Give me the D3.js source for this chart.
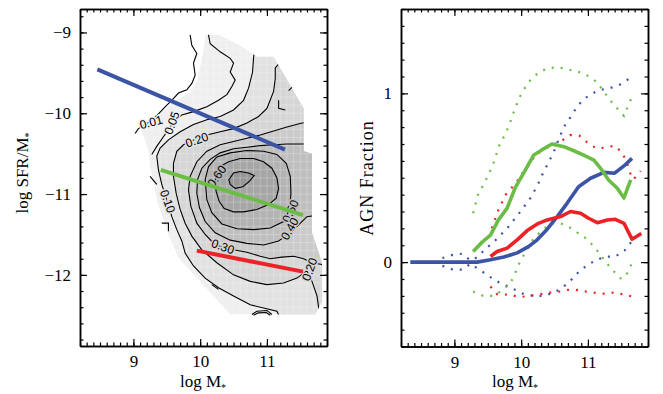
<!DOCTYPE html>
<html>
<head>
<meta charset="utf-8">
<script src="https://d3js.org/d3.v7.min.js"></script>
<style>
  body { margin: 0; background: #fff; }
  svg text { font-family: 'Liberation Serif', 'DejaVu Serif', serif; fill: #000; }
  .axis path, .axis line { stroke: #000; stroke-width: 1.2; }
  .axis .domain { stroke-width: 1.5; }
  .axis text { font-size: 17px; }
  svg text.clab { font-family: 'Liberation Sans', Arial, sans-serif; font-size: 12px; }
</style>
</head>
<body>
<svg id="chart" width="663" height="394"></svg>
<script>
// ---------- tick values ----------
const massTicks = [9, 10, 11];
const ssfrTicks = [-9, -10, -11, -12];
const fracTicks = [0, 1];

// ---------- left panel: sSFR vs mass density map ----------
// outline of the region that has data (shaded)
const maskOutline = [[10.08,-9.03],[10.275,-9.025],[10.6,-9.16],[10.85,-9.30],[11.1,-9.30],[11.55,-9.94],
  [11.55,-10.47],[11.675,-10.50],[11.675,-11.48],[11.825,-11.85],[11.825,-12.33],[11.725,-12.49],
  [10.45,-12.49],[9.95,-12.04],[9.675,-11.79],[9.52,-11.5],[9.355,-11.09],[9.25,-10.67],[9.22,-10.45],
  [9.125,-10.23],[9.1,-10.16],[9.35,-10.02],[9.6,-9.86],[9.85,-9.74],[9.96,-9.58],[10.03,-9.3]];

// open contours (outermost levels)
const c001 = [[9.85,-9.03],[9.875,-9.16],[9.95,-9.26],[9.9,-9.38],[9.925,-9.53],[9.875,-9.63],[9.8,-9.71],
  [9.675,-9.75],[9.575,-9.84],[9.475,-9.92],[9.35,-10.03],[9.2,-10.13],[9.075,-10.19],[9.025,-10.25]];
const c005 = [[10.125,-9.03],[10.15,-9.14],[10.3,-9.24],[10.45,-9.32],[10.5,-9.38],[10.45,-9.49],[10.525,-9.59],
  [10.475,-9.67],[10.4,-9.77],[10.275,-9.84],[10.1,-9.92],[9.9,-9.98],[9.725,-10.02],[9.575,-10.14],
  [9.45,-10.29],[9.35,-10.41],[9.275,-10.51]];
// small contour pieces near the edge of the data
const fragments = [
  [[11.175,-9.84],[11.175,-9.94],[11.275,-9.96]],
  [[11.375,-9.68],[11.325,-9.72]],
  [[9.25,-10.78],[9.35,-10.88]],
  [[9.425,-11.36],[9.525,-11.36],[9.525,-11.46]],
  [[10.175,-12.12],[10.275,-12.18]],
  [[10.775,-12.49],[10.85,-12.45],[11.0,-12.44],[11.075,-12.49]],
  [[10.8,-12.50],[10.87,-12.47],[10.99,-12.465],[11.05,-12.50]]
];

// closed contours (parts outside the shaded region are hidden)
const c010 = [[10.825,-9.18],[10.8,-9.31],[10.785,-9.49],[10.725,-9.69],[10.65,-9.84],[10.5,-9.96],[10.3,-10.04],
  [10.1,-10.08],[9.9,-10.14],[9.7,-10.23],[9.525,-10.33],[9.4,-10.43],[9.35,-10.53],[9.375,-10.70],
  [9.425,-10.88],[9.5,-11.07],[9.575,-11.28],[9.65,-11.44],[9.725,-11.58],[9.775,-11.73],[9.9,-11.89],
  [10.075,-12.04],[10.275,-12.16],[10.5,-12.26],[10.75,-12.37],[10.95,-12.41],[11.15,-12.45],[11.25,-12.63],
  [12.0,-12.63],[12.0,-9.18]];
const c020 = [[11.25,-9.32],[11.125,-9.44],[11.125,-9.57],[11.1,-9.73],[11.0,-9.94],[10.875,-10.04],[10.7,-10.12],
  [10.5,-10.19],[10.3,-10.23],[10.1,-10.27],[9.9,-10.33],[9.75,-10.39],[9.65,-10.47],[9.6,-10.62],[9.6,-10.78],
  [9.64,-10.99],[9.7,-11.19],[9.775,-11.36],[9.875,-11.52],[10.025,-11.69],[10.25,-11.85],[10.5,-12.0],
  [10.75,-12.08],[11.0,-12.12],[11.25,-12.10],[11.45,-12.04],[11.6,-11.95],[11.675,-12.08],[11.75,-12.26],
  [11.8,-12.55],[12.0,-12.55],[12.0,-9.32]];
const c030 = [[12.0,-10.08],[11.525,-10.12],[11.3,-10.17],[11.1,-10.22],[10.9,-10.27],[10.7,-10.31],[10.5,-10.35],
  [10.3,-10.39],[10.1,-10.47],[9.95,-10.6],[9.85,-10.78],[9.825,-10.95],[9.86,-11.15],[9.95,-11.36],
  [10.075,-11.50],[10.225,-11.63],[10.5,-11.69],[10.7,-11.72],[10.9,-11.77],[11.05,-11.80],[11.225,-11.78],
  [11.4,-11.77],[11.55,-11.80],[11.675,-11.85],[11.95,-11.89],[12.0,-11.89]];
const c040 = [[12.0,-10.37],[11.525,-10.38],[11.3,-10.38],[11.1,-10.39],[10.9,-10.40],[10.7,-10.42],[10.5,-10.44],
  [10.3,-10.49],[10.15,-10.57],[10.025,-10.68],[9.96,-10.82],[9.95,-10.99],[9.99,-11.17],[10.075,-11.34],
  [10.225,-11.48],[10.45,-11.57],[10.7,-11.61],[10.95,-11.63],[11.175,-11.58],[11.35,-11.48],[11.475,-11.38],
  [11.6,-11.28],[12.0,-11.23]];
const c050 = [[10.075,-10.82],[10.125,-10.66],[10.25,-10.54],[10.45,-10.49],[10.7,-10.46],[10.95,-10.47],
  [11.15,-10.51],[11.29,-10.62],[11.35,-10.78],[11.36,-10.99],[11.34,-11.19],[11.25,-11.34],[11.05,-11.42],
  [10.8,-11.44],[10.55,-11.43],[10.325,-11.37],[10.175,-11.23],[10.1,-11.07]];
const c060 = [[10.24,-10.78],[10.3,-10.66],[10.425,-10.60],[10.6,-10.56],[10.8,-10.56],[10.95,-10.60],
  [11.075,-10.68],[11.15,-10.80],[11.175,-10.93],[11.14,-11.05],[11.025,-11.13],[10.85,-11.19],[10.65,-11.22],
  [10.5,-11.22],[10.36,-11.18],[10.285,-11.09],[10.24,-10.97],[10.225,-10.86]];
const c070 = [[10.45,-10.80],[10.5,-10.74],[10.6,-10.72],[10.725,-10.74],[10.81,-10.77],[10.74,-10.84],
  [10.64,-10.91],[10.525,-10.93],[10.45,-10.88],[10.43,-10.82]];

// contour labels: logM, logSFR/M, text
const contourLabels = [[9.265,-10.11,'0.01'],[9.575,-10.12,'0.05'],[9.95,-10.33,'0.20'],[10.25,-10.78,'0.60'],
  [9.515,-11.09,'0.10'],[11.35,-11.21,'0.50'],[11.34,-11.43,'0.40'],[10.34,-11.65,'0.30'],[11.64,-11.93,'0.20']];

// fitted relations on the left panel
const blueRidge = [[8.46,-9.457],[11.27,-10.45]];
const greenRidge = [[9.41,-10.70],[11.54,-11.26]];
const redRidge = [[9.95,-11.70],[11.54,-11.96]];

// ---------- right panel: AGN fraction vs mass ----------
const blueMid = [[8.34,0],[9.34,0],[9.54,0.014],[9.74,0.03],[9.94,0.055],[10.11,0.092],[10.24,0.132],[10.39,0.195],
  [10.54,0.27],[10.69,0.35],[10.86,0.447],[11.04,0.497],[11.24,0.532],[11.4,0.527],[11.54,0.57],[11.66,0.615]];
const blueHi = [[8.82,0.024],[8.97,0.043],[9.12,0.05],[9.24,0.01],[9.35,0.03],[9.46,0.077],[9.59,0.12],[9.79,0.2],
  [9.89,0.25],[9.99,0.3],[10.14,0.38],[10.25,0.46],[10.33,0.53],[10.39,0.575],[10.49,0.655],[10.58,0.747],
  [10.65,0.807],[10.74,0.86],[10.82,0.91],[10.92,0.96],[11.04,0.994],[11.17,1.02],[11.32,1.03],[11.47,1.05],[11.61,1.085]];
const blueLo = [[8.82,-0.022],[8.97,-0.043],[9.12,-0.045],[9.24,-0.01],[9.34,-0.036],[9.49,-0.075],[9.61,-0.109],
  [9.75,-0.134],[9.89,-0.16],[10.04,-0.19],[10.19,-0.2],[10.34,-0.2],[10.49,-0.18],[10.61,-0.155],[10.75,-0.105],
  [10.88,-0.05],[11.0,-0.016],[11.13,0.014],[11.28,0.033],[11.41,0.033],[11.55,0.069],[11.65,0.12]];
const greenMid = [[9.28,0.063],[9.42,0.12],[9.54,0.16],[9.66,0.25],[9.79,0.32],[9.91,0.44],[10.04,0.53],[10.19,0.635],
  [10.31,0.665],[10.46,0.70],[10.64,0.684],[10.79,0.66],[10.96,0.63],[11.09,0.605],[11.19,0.556],[11.31,0.487],
  [11.44,0.438],[11.54,0.38],[11.64,0.487]];
const greenHi = [[9.28,0.29],[9.36,0.41],[9.44,0.46],[9.51,0.52],[9.58,0.58],[9.67,0.69],[9.75,0.75],[9.82,0.81],
  [9.87,0.87],[9.98,0.98],[10.06,1.035],[10.15,1.085],[10.27,1.126],[10.41,1.15],[10.56,1.154],[10.72,1.14],
  [10.87,1.126],[11.02,1.10],[11.14,1.065],[11.24,1.01],[11.33,0.96],[11.43,0.915],[11.54,0.866],[11.6,0.925],[11.66,0.98]];
const greenLo = [[9.28,-0.174],[9.43,-0.2],[9.58,-0.2],[9.69,-0.174],[9.83,-0.13],[9.89,-0.085],[9.96,-0.016],
  [10.06,0.057],[10.19,0.142],[10.33,0.195],[10.46,0.23],[10.59,0.23],[10.73,0.205],[10.86,0.17],[10.99,0.136],
  [11.11,0.083],[11.2,0.037],[11.28,-0.006],[11.39,-0.055],[11.5,-0.1],[11.59,-0.065],[11.66,-0.006]];
const redMid = [[9.54,0.033],[9.64,0.063],[9.79,0.083],[9.94,0.132],[10.09,0.187],[10.26,0.23],[10.39,0.25],
  [10.59,0.27],[10.74,0.30],[10.89,0.29],[11.01,0.26],[11.14,0.234],[11.29,0.25],[11.41,0.254],[11.54,0.23],
  [11.66,0.136],[11.8,0.17]];
const redHi = [[9.56,0.2],[9.66,0.31],[9.77,0.40],[9.88,0.45],[9.96,0.49],[10.04,0.54],[10.13,0.59],[10.22,0.635],
  [10.31,0.66],[10.44,0.69],[10.59,0.714],[10.73,0.753],[10.87,0.75],[10.99,0.71],[11.12,0.675],[11.25,0.678],
  [11.4,0.69],[11.51,0.65],[11.58,0.595],[11.63,0.53],[11.68,0.49],[11.79,0.54]];
const redLo = [[9.54,-0.144],[9.64,-0.19],[9.83,-0.193],[9.98,-0.207],[10.14,-0.2],[10.29,-0.19],[10.44,-0.18],
  [10.59,-0.174],[10.76,-0.16],[10.91,-0.17],[11.06,-0.18],[11.24,-0.187],[11.39,-0.18],[11.55,-0.193],[11.7,-0.207]];

// ---------- styling ----------
const BLUE = '#3c54a5', GREEN = '#6cbd45', RED = '#ec2227';
const closedContours = [c010, c020, c030, c040, c050, c060, c070];
const bandGray = ['#e2e2e2', '#d6d6d6', '#cbcbcb', '#bfbfbf', '#b3b3b3', '#a6a6a6', '#969696'];
const labelAngle = [-15, -70, -20, -55, 70, -65, -60, 20, -70];
const labelHalo = ['#efefef', '#efefef', '#e2e2e2', '#b3b3b3', '#e2e2e2', '#bfbfbf', '#cbcbcb', '#d6d6d6', '#d6d6d6'];

const svg = d3.select('#chart');
const defs = svg.append('defs');

const xL = d3.scaleLinear().domain([8.2, 11.9]).range([80, 327]);
const yL = d3.scaleLinear().domain([-12.88, -8.71]).range([346, 9]);
const xR = d3.scaleLinear().domain([8.2, 11.9]).range([401, 648]);
const yR = d3.scaleLinear().domain([-0.5, 1.5]).range([346.5, 9]);

const lineL = d3.line().x(d => xL(d[0])).y(d => yL(d[1]));
const lineR = d3.line().x(d => xR(d[0])).y(d => yR(d[1]));

defs.append('clipPath').attr('id', 'clipL').append('rect')
  .attr('x', 80).attr('y', 9).attr('width', 247).attr('height', 337);
defs.append('clipPath').attr('id', 'clipR').append('rect')
  .attr('x', 401).attr('y', 9).attr('width', 247).attr('height', 337.5);
defs.append('clipPath').attr('id', 'maskClip').append('path')
  .attr('d', lineL(maskOutline) + 'Z');

// ---------- left panel ----------
const gL = svg.append('g').attr('clip-path', 'url(#clipL)');
const gMask = gL.append('g').attr('clip-path', 'url(#maskClip)');

gMask.append('path').attr('d', lineL(maskOutline) + 'Z').attr('fill', '#efefef');
gMask.selectAll('path.band').data(closedContours).join('path')
  .attr('class', 'band')
  .attr('d', d => lineL(d) + 'Z')
  .attr('fill', (d, i) => bandGray[i]);

// faint pixel grid of the density map
const gridX = d3.range(90, 119).map(v => v / 10);
const gridY = d3.range(-125, -89).map(v => v / 10);
gMask.selectAll('line.gx').data(gridX).join('line')
  .attr('x1', d => xL(d)).attr('x2', d => xL(d)).attr('y1', 9).attr('y2', 346)
  .attr('stroke', '#fff').attr('stroke-opacity', 0.35).attr('stroke-width', 0.7);
gMask.selectAll('line.gy').data(gridY).join('line')
  .attr('y1', d => yL(d)).attr('y2', d => yL(d)).attr('x1', 80).attr('x2', 327)
  .attr('stroke', '#fff').attr('stroke-opacity', 0.35).attr('stroke-width', 0.7);

gMask.selectAll('path.cline').data(closedContours).join('path')
  .attr('class', 'cline')
  .attr('d', d => lineL(d) + 'Z')
  .attr('fill', 'none').attr('stroke', '#000').attr('stroke-width', 1.1);

gL.selectAll('path.open').data([c001, c005, ...fragments]).join('path')
  .attr('class', 'open')
  .attr('d', d => lineL(d))
  .attr('fill', 'none').attr('stroke', '#000').attr('stroke-width', 1.1);

gL.selectAll('text.clab').data(contourLabels).join('text')
  .attr('class', 'clab')
  .attr('transform', (d, i) => `translate(${xL(d[0])},${yL(d[1])}) rotate(${labelAngle[i]})`)
  .attr('text-anchor', 'middle').attr('dy', '0.35em')
  .attr('stroke', (d, i) => labelHalo[i]).attr('stroke-width', 3).attr('paint-order', 'stroke')
  .text(d => d[2]);

[[blueRidge, BLUE], [greenRidge, GREEN], [redRidge, RED]].forEach(([d, c]) => {
  gL.append('path').attr('d', lineL(d)).attr('fill', 'none')
    .attr('stroke', c).attr('stroke-width', 4);
});

// ---------- right panel ----------
const gR = svg.append('g').attr('clip-path', 'url(#clipR)');
[[blueHi, BLUE], [blueLo, BLUE], [greenHi, GREEN], [greenLo, GREEN], [redHi, RED], [redLo, RED]].forEach(([d, c]) => {
  gR.append('path').attr('d', lineR(d)).attr('fill', 'none')
    .attr('stroke', c).attr('stroke-width', 2.2).attr('stroke-dasharray', '2,7');
});
[[blueMid, BLUE], [redMid, RED], [greenMid, GREEN]].forEach(([d, c]) => {
  gR.append('path').attr('d', lineR(d)).attr('fill', 'none')
    .attr('stroke', c).attr('stroke-width', 3.6).attr('stroke-linejoin', 'round');
});

// ---------- axes (ticks on all sides, pointing inward) ----------
function side(make, scale, tr, major, minor, labelled) {
  svg.append('g').attr('class', 'axis').attr('transform', tr)
    .call(make(scale).tickValues(minor).tickSize(-3.5).tickSizeOuter(0).tickFormat(''));
  svg.append('g').attr('class', 'axis').attr('transform', tr)
    .call(make(scale).tickValues(major).tickSize(-7).tickSizeOuter(0).tickPadding(9)
      .tickFormat(labelled ? d3.format('') : ''));
}
const massMinor = d3.range(82, 120).map(v => v / 10);
function frame(x, y, yMajor, yMinor) {
  const [x0, x1] = x.range(), [y0, y1] = y.range();
  side(d3.axisBottom, x, `translate(0,${y0})`, massTicks, massMinor, true);
  side(d3.axisTop, x, `translate(0,${y1})`, massTicks, massMinor, false);
  side(d3.axisLeft, y, `translate(${x0},0)`, yMajor, yMinor, true);
  side(d3.axisRight, y, `translate(${x1},0)`, yMajor, yMinor, false);
}
frame(xL, yL, ssfrTicks, d3.range(-64, -43).map(v => v / 5));
frame(xR, yR, fracTicks, d3.range(-5, 16).map(v => v / 10));

// ---------- titles ----------
function starred(t, s) {
  t.text(s);
  t.append('tspan').attr('font-size', 10).attr('dy', 4).text('*');
}
svg.append('text').attr('x', 203).attr('y', 387).attr('text-anchor', 'middle')
  .attr('font-size', 17).call(starred, 'log M');
svg.append('text').attr('x', 515).attr('y', 387).attr('text-anchor', 'middle')
  .attr('font-size', 17).call(starred, 'log M');
svg.append('text').attr('transform', 'translate(28,173) rotate(-90)').attr('text-anchor', 'middle')
  .attr('font-size', 17).call(starred, 'log SFR/M');
svg.append('text').attr('transform', 'translate(373,178) rotate(-90)').attr('text-anchor', 'middle')
  .attr('font-size', 18).attr('letter-spacing', 1).text('AGN Fraction');
</script>
</body>
</html>
